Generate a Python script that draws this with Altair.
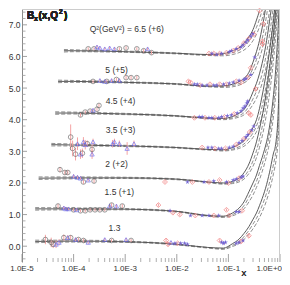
import altair as alt
import pandas as pd

W, H = 258, 253

# ---------------- model curves (shared x grid, first entry = panel start) -------------
grid_x = [None, 1e-4, 1e-3, 1e-2, 0.04, 0.08, 0.12, 0.16, 0.2, 0.25, 0.3, 0.35, 0.4,
          0.45, 0.5, 0.55, 0.6, 0.65, 0.7, 0.75, 0.8, 0.85, 0.9, 0.95, 1.0]
panel_start_x = [6.5e-5, 5.0e-5, 4.4e-5, 3.7e-5, 2.1e-5, 1.8e-5, 1.8e-5]

sol_65 = [6.18, 6.18, 6.15, 6.10, 6.06, 6.09, 6.18, 6.27, 6.42, 6.62, 6.85, 7.15, 7.45, 7.80]
da_65 = [6.22, 6.21, 6.17, 6.11, 6.05, 6.06, 6.12, 6.19, 6.30, 6.48, 6.68, 6.92, 7.18, 7.46, 7.80]
db_65 = [6.14, 6.15, 6.13, 6.08, 6.03, 6.02, 6.06, 6.12, 6.20, 6.33, 6.50, 6.70, 6.93, 7.18, 7.45, 7.75]

sol_5 = [5.21, 5.21, 5.18, 5.13, 5.06, 5.07, 5.12, 5.20, 5.30, 5.50, 5.82, 6.15, 6.50, 6.90, 7.30, 7.75]
da_5 = [5.25, 5.24, 5.20, 5.14, 5.06, 5.05, 5.08, 5.14, 5.22, 5.38, 5.62, 5.90, 6.20, 6.55, 6.92, 7.30, 7.75]
db_5 = [5.17, 5.18, 5.16, 5.11, 5.04, 5.02, 5.04, 5.09, 5.16, 5.28, 5.46, 5.68, 5.94, 6.22, 6.54, 6.88, 7.25, 7.62]

sol_45 = [4.21, 4.21, 4.18, 4.12, 4.05, 4.04, 4.10, 4.20, 4.32, 4.58, 4.88, 5.15, 5.45, 5.78, 6.12, 6.50, 6.90, 7.30, 7.70]
da_45 = [4.25, 4.24, 4.20, 4.13, 4.05, 4.02, 4.06, 4.13, 4.22, 4.42, 4.66, 4.90, 5.16, 5.45, 5.77, 6.12, 6.48, 6.86, 7.25, 7.65]
db_45 = [4.17, 4.18, 4.16, 4.10, 4.03, 4.00, 4.03, 4.08, 4.15, 4.30, 4.48, 4.68, 4.90, 5.15, 5.43, 5.74, 6.08, 6.45, 6.84, 7.24, 7.65]

sol_35 = [3.21, 3.20, 3.17, 3.12, 3.06, 3.05, 3.12, 3.22, 3.33, 3.55, 3.75, 4.00, 4.35, 4.75, 5.15, 5.55, 5.95, 6.35, 6.75, 7.15, 7.60]
da_35 = [3.25, 3.23, 3.19, 3.13, 3.06, 3.03, 3.07, 3.14, 3.23, 3.40, 3.58, 3.80, 4.08, 4.42, 4.78, 5.15, 5.52, 5.90, 6.30, 6.70, 7.10, 7.55]
db_35 = [3.17, 3.17, 3.15, 3.10, 3.04, 3.01, 3.04, 3.09, 3.16, 3.29, 3.44, 3.62, 3.85, 4.12, 4.44, 4.78, 5.14, 5.52, 5.90, 6.30, 6.72, 7.15, 7.60]

sol_2 = [2.15, 2.16, 2.16, 2.12, 2.03, 2.00, 2.05, 2.15, 2.32, 2.60, 2.95, 3.30, 3.70, 4.10, 4.50, 4.95, 5.40, 5.85, 6.30, 6.75, 7.20, 7.70]
da_2 = [2.19, 2.19, 2.18, 2.13, 2.03, 1.98, 2.01, 2.08, 2.20, 2.42, 2.70, 3.02, 3.38, 3.76, 4.15, 4.56, 4.98, 5.42, 5.88, 6.35, 6.82, 7.30, 7.80]
db_2 = [2.11, 2.13, 2.14, 2.10, 2.01, 1.96, 1.98, 2.03, 2.12, 2.30, 2.53, 2.80, 3.12, 3.46, 3.82, 4.20, 4.60, 5.02, 5.45, 5.90, 6.38, 6.88, 7.40, 7.95]

sol_15 = [1.18, 1.18, 1.17, 1.10, 0.97, 0.95, 1.05, 1.20, 1.40, 1.72, 2.00, 2.25, 2.55, 2.80, 3.05, 3.30, 3.60, 3.95, 4.35, 4.80, 5.30, 5.90, 6.60, 7.40, 8.30]
da_15 = [1.22, 1.21, 1.19, 1.11, 0.97, 0.93, 1.00, 1.12, 1.28, 1.55, 1.80, 2.05, 2.32, 2.58, 2.84, 3.10, 3.38, 3.70, 4.05, 4.45, 4.90, 5.42, 6.05, 6.80, 7.70]
db_15 = [1.14, 1.15, 1.15, 1.08, 0.95, 0.91, 0.96, 1.05, 1.18, 1.40, 1.62, 1.86, 2.10, 2.35, 2.60, 2.85, 3.12, 3.42, 3.75, 4.12, 4.55, 5.05, 5.65, 6.40, 7.30]

sol_13 = [0.15, 0.16, 0.14, 0.06, -0.04, -0.06, 0.08, 0.22, 0.40, 0.62, 0.85, 1.05, 1.28, 1.50, 1.72, 1.95, 2.20, 2.45, 2.72, 2.95, 3.10, 3.40, 3.90, 5.00, 7.60]
da_13 = [0.19, 0.19, 0.16, 0.07, -0.04, -0.08, 0.03, 0.14, 0.30, 0.50, 0.70, 0.88, 1.08, 1.28, 1.48, 1.68, 1.90, 2.12, 2.36, 2.60, 2.82, 3.10, 3.50, 4.40, 6.80]
db_13 = [0.11, 0.13, 0.12, 0.04, -0.06, -0.10, -0.01, 0.08, 0.21, 0.38, 0.55, 0.72, 0.90, 1.08, 1.26, 1.45, 1.65, 1.86, 2.08, 2.30, 2.52, 2.78, 3.15, 3.90, 6.00]

curve_sets = [(sol_65, da_65, db_65), (sol_5, da_5, db_5), (sol_45, da_45, db_45),
              (sol_35, da_35, db_35), (sol_2, da_2, db_2), (sol_15, da_15, db_15),
              (sol_13, da_13, db_13)]

# ---------------- data points (x, y, kind, error) per panel ----------------
# kinds: C grey circle, T blue triangle, S blue star, D red diamond
p65_x = [1.92e-4, 2.49e-4, 2.84e-4, 3.23e-4, 4.02e-4, 4.99e-4, 6.19e-4, 7.71e-4, 1.04e-3, 1.68e-3, 2.28e-3, 2.72e-3, 3.23e-3,
         0.042, 0.0478, 0.0521, 0.0594, 0.0676, 0.0738, 0.0917, 0.104, 0.114, 0.124, 0.142, 0.155,
         0.176, 0.192, 0.200, 0.219, 0.238, 0.249, 0.272, 0.296, 0.310, 0.402, 0.477, 0.457]
p65_y = [6.24, 6.24, 6.30, 6.27, 6.24, 6.27, 6.24, 6.24, 6.27, 6.24, 6.18, 6.24, 6.12,
         6.09, 6.09, 6.09, 6.06, 6.09, 6.09, 6.12, 6.15, 6.18, 6.18, 6.24, 6.27,
         6.30, 6.36, 6.42, 6.45, 6.52, 6.56, 6.64, 6.72, 6.70, 7.45, 7.03, 6.48]
p65_k = "CCTTTTTCCCCTC" "DSDSDSDSSDSD" "SSDSSDSSDDDD"
p65_e = [0.05, 0.05, 0.06, 0.05, 0.05, 0.05, 0.05, 0.05, 0.05, 0.05, 0.06, 0.05, 0.06,
         0.03, 0.03, 0.03, 0.03, 0.03, 0.03, 0.03, 0.03, 0.03, 0.03, 0.03, 0.03,
         0.04, 0.04, 0.04, 0.04, 0.04, 0.04, 0.04, 0.05, 0.05, 0.06, 0.06, 0.06]

p5_x = [2.38e-4, 3.23e-4, 4.02e-4, 4.39e-4, 5.45e-4, 6.76e-4, 7.71e-4, 1.04e-3, 1.30e-3, 1.68e-3,
        0.0168, 0.0184, 0.0219, 0.0249, 0.0284, 0.031, 0.0385, 0.0439, 0.0521, 0.0594, 0.0676, 0.0805, 0.0917,
        0.104, 0.124, 0.142, 0.161, 0.176, 0.2, 0.219, 0.238, 0.272, 0.272, 0.323, 0.457]
p5_y = [5.21, 5.24, 5.21, 5.21, 5.24, 5.27, 5.24, 5.33, 5.33, 5.33,
        5.21, 5.18, 5.12, 5.12, 5.09, 5.09, 5.09, 5.12, 5.09, 5.09, 5.12, 5.12, 5.12,
        5.15, 5.18, 5.21, 5.24, 5.18, 5.27, 5.30, 5.33, 5.42, 5.64, 5.97, 6.39]
p5_k = "CTTCTCTCCC" "DDSSDSSDSSDSD" "SSDSDSSDSDSD"
p5_e = [0.05, 0.05, 0.05, 0.05, 0.05, 0.05, 0.05, 0.06, 0.06, 0.06,
        0.04, 0.04, 0.03, 0.03, 0.03, 0.03, 0.03, 0.03, 0.03, 0.03, 0.03, 0.03, 0.03,
        0.03, 0.03, 0.03, 0.03, 0.04, 0.04, 0.04, 0.04, 0.04, 0.05, 0.05, 0.06]

p45_x = [1.36e-4, 1.68e-4, 2.09e-4, 2.38e-4, 2.84e-4, 3.10e-4,
         0.0219, 0.0272, 0.031, 0.0352, 0.042, 0.0478, 0.0545, 0.0648, 0.0738, 0.0841, 0.0958,
         0.114, 0.130, 0.148, 0.176, 0.192, 0.209, 0.228, 0.238, 0.249, 0.272, 0.337]
p45_y = [4.15, 4.24, 4.27, 4.30, 4.33, 4.45,
         4.06, 4.09, 4.09, 4.06, 4.06, 4.06, 4.06, 4.06, 4.09, 4.09, 4.12,
         4.15, 4.18, 4.21, 4.27, 4.36, 4.42, 4.52, 4.58, 4.21, 4.15, 4.97]
p45_k = "CCCTCC" "DSSDSSDSSDS" "SDSSSSSSDDD"
p45_e = [0.06, 0.05, 0.05, 0.05, 0.05, 0.06,
         0.03, 0.03, 0.03, 0.03, 0.03, 0.03, 0.03, 0.03, 0.03, 0.03, 0.03,
         0.03, 0.03, 0.03, 0.04, 0.04, 0.04, 0.04, 0.05, 0.05, 0.05, 0.06]

p35_x = [8.77e-5, 9.57e-5, 1.09e-4, 1.19e-4, 1.36e-4, 1.48e-4, 1.55e-4, 1.68e-4, 1.84e-4, 2.28e-4, 2.28e-4, 2.38e-4,
         5.69e-4, 6.19e-4, 7.71e-4, 1.09e-3, 1.48e-3,
         0.031, 0.0402, 0.0478, 0.0545, 0.0648, 0.0738, 0.0877, 0.104, 0.124,
         0.142, 0.161, 0.184, 0.2, 0.219, 0.238, 0.26, 0.284, 0.31]
p35_y = [3.45, 3.09, 2.91, 3.24, 2.91, 2.94, 3.30, 3.21, 3.24, 3.06, 2.91, 3.30,
         3.24, 3.30, 3.24, 3.09, 3.24,
         3.12, 3.12, 3.12, 3.09, 3.09, 3.09, 3.09, 3.12, 3.15,
         3.21, 3.27, 3.33, 3.39, 3.45, 3.52, 3.61, 3.67, 3.79]
p35_k = "CCCTTCTTCCTT" "TTTTT" "DSSDSSDSS" "DSSDSSDSS"
p35_e = [0.40, 0.25, 0.20, 0.20, 0.15, 0.15, 0.15, 0.15, 0.10, 0.15, 0.15, 0.10,
         0.12, 0.10, 0.10, 0.20, 0.10,
         0.03, 0.03, 0.03, 0.03, 0.03, 0.03, 0.03, 0.03, 0.03,
         0.03, 0.04, 0.04, 0.04, 0.04, 0.04, 0.05, 0.05, 0.05]

p2_x = [5.45e-5, 6.76e-5, 7.71e-5, 1.0e-4, 1.19e-4, 1.36e-4, 1.55e-4, 1.92e-4, 2.49e-4,
        5.9e-3, 0.0161, 0.02, 0.0338, 0.042, 0.0521, 0.0676, 0.0917, 0.1, 0.124, 0.142, 0.161, 0.176, 0.192]
p2_y = [2.42, 2.33, 2.33, 2.21, 2.18, 2.15, 2.03, 2.09, 2.06,
        2.03, 2.03, 2.03, 2.03, 2.03, 2.06, 2.09, 2.03, 2.00, 2.09, 2.12, 2.15, 2.18, 2.21]
p2_k = "CCCTTTCTC" "DSDSDSDSDSSDSS"
p2_e = [0.08, 0.07, 0.07, 0.06, 0.06, 0.06, 0.06, 0.05, 0.06,
        0.04, 0.03, 0.03, 0.03, 0.03, 0.03, 0.03, 0.03, 0.03, 0.03, 0.03, 0.04, 0.04, 0.04]

p15_x = [4.99e-5, 6.47e-5, 7.06e-5, 8.05e-5, 1.0e-4, 1.14e-4, 1.36e-4, 1.68e-4, 2.09e-4, 2.6e-4, 3.23e-4, 4.02e-4,
         4.99e-4, 5.45e-4, 6.76e-4, 8.77e-4,
         4.4e-3, 7.4e-3, 8.4e-3, 0.0114, 0.0184, 0.0228, 0.031, 0.042, 0.0521, 0.0648, 0.0917, 0.104, 0.142, 0.161, 0.184]
p15_y = [1.27, 1.21, 1.18, 1.18, 1.15, 1.15, 1.12, 1.12, 1.15, 1.15, 1.15, 1.15,
         1.27, 1.30, 1.27, 1.27,
         1.30, 1.12, 1.06, 1.00, 0.97, 0.97, 0.97, 0.97, 0.97, 0.97, 1.15, 0.97, 1.09, 1.09, 1.12]
p15_k = "CTTTCTCCCCCC" "TCTC" "DSDDSDSSDSDDSSD"
p15_e = [0.07, 0.06, 0.06, 0.05, 0.05, 0.05, 0.05, 0.05, 0.05, 0.05, 0.05, 0.05,
         0.06, 0.06, 0.06, 0.06,
         0.05, 0.04, 0.04, 0.04, 0.03, 0.03, 0.03, 0.03, 0.03, 0.03, 0.04, 0.03, 0.03, 0.04, 0.04]

p13_x = [2.84e-5, 3.68e-5, 4.02e-5, 4.57e-5, 5.21e-5, 6.47e-5, 7.71e-5, 8.77e-5, 1.09e-4, 1.24e-4, 1.55e-4, 1.92e-4,
         4.02e-4, 5.45e-4, 1.04e-3, 1.30e-3,
         6.2e-3, 6.76e-3, 7.7e-3, 9.2e-3, 0.0104, 0.0119, 0.0142, 0.0161,
         0.0676, 0.0738, 0.0805, 0.0877, 0.142, 0.161, 0.176, 0.192, 0.249]
p13_y = [0.21, 0.12, 0.06, 0.06, 0.12, 0.27, 0.27, 0.27, 0.21, 0.21, 0.18, 0.12,
         0.21, 0.18, 0.21, 0.18,
         0.18, 0.06, 0.12, 0.09, 0.09, 0.09, 0.09, 0.06,
         0.18, 0.12, 0.09, 0.12, 0.09, 0.12, 0.15, 0.18, 0.33]
p13_k = "CCCTTCTCTCCT" "TCTC" "DDTSDSSS" "DSSSSSDSD"
p13_e = [0.15, 0.15, 0.12, 0.12, 0.10, 0.10, 0.08, 0.08, 0.06, 0.06, 0.06, 0.06,
         0.05, 0.05, 0.05, 0.05,
         0.06, 0.06, 0.04, 0.04, 0.04, 0.04, 0.04, 0.04,
         0.04, 0.04, 0.04, 0.04, 0.04, 0.04, 0.05, 0.05, 0.06]

# ---------------- labels ----------------
panel_labels = ["Q²(GeV²) =  6.5 (+6)", "5 (+5)", "4.5 (+4)", "3.5 (+3)", "2 (+2)", "1.5 (+1)", "1.3"]
label_x = [1.07e-3, 6.8e-4, 8.1e-4, 8.1e-4, 6.8e-4, 7.7e-4, 6.2e-4]
label_y = [6.88, 5.58, 4.60, 3.67, 2.60, 1.70, 0.58]

x_tick_vals = [1e-5, 1e-4, 1e-3, 1e-2, 1e-1]
x_tick_labels = ["1.0E-5", "1.0E-4", "1.0E-3", "1.0E-2", "1.0E-1"]
x_last_val = [1.0]
x_last_label = ["1.0E+0"]
y_tick_vals = [0, 1, 2, 3, 4, 5, 6, 7]
y_minor = [round(-0.4 + 0.2 * i, 1) for i in range(40) if round(-0.4 + 0.2 * i, 1) not in y_tick_vals]
x_minor = [m * 10.0 ** d for d in range(-5, 0) for m in range(2, 10)]

# ---------------- build tables ----------------
crow = []
for pi, sets in enumerate(curve_sets):
    xs_ = [panel_start_x[pi]] + grid_x[1:]
    for style, ys_ in zip(["solid", "dashA", "dashB"], sets):
        for i, yv in enumerate(ys_):
            crow.append({"x": xs_[i], "y": yv, "cid": f"{pi}-{style}", "style": style, "i": i})
curves_df = pd.DataFrame(crow)

prow = []
for xs_, ys_, ks_, es_ in [(p65_x, p65_y, p65_k, p65_e), (p5_x, p5_y, p5_k, p5_e),
                           (p45_x, p45_y, p45_k, p45_e), (p35_x, p35_y, p35_k, p35_e),
                           (p2_x, p2_y, p2_k, p2_e), (p15_x, p15_y, p15_k, p15_e),
                           (p13_x, p13_y, p13_k, p13_e)]:
    for xv, yv, kv, ev in zip(xs_, ys_, ks_, es_):
        prow.append({"x": xv, "y": yv, "k": kv, "lo": yv - ev, "hi": yv + ev})
pts_df = pd.DataFrame(prow)

lab_df = pd.DataFrame({"x": label_x, "y": label_y, "t": panel_labels})
xl_df = pd.DataFrame({"x": x_tick_vals, "t": x_tick_labels})
xl2_df = pd.DataFrame({"x": x_last_val, "t": x_last_label})
ymaj_df = pd.DataFrame({"y": y_tick_vals})
ymin_df = pd.DataFrame({"y": y_minor})
xmaj_df = pd.DataFrame({"x": x_tick_vals + x_last_val})
xmin_df = pd.DataFrame({"x": x_minor})

FONT = "Liberation Sans"
xs = alt.Scale(type="log", domain=[1e-5, 1], nice=False)
ys = alt.Scale(domain=[-0.5, 7.5], nice=False, zero=False)
yax = alt.Axis(values=y_tick_vals, format=".1f", ticks=False, domain=True, domainColor="#8a8a8a",
               labelFontSize=8.5, labelColor="#333333", labelPadding=2, title=None, grid=False,
               labelFont=FONT)
X = alt.X("x:Q", scale=xs, axis=None)
Y = alt.Y("y:Q", scale=ys, axis=yax)

STAR = ("M0,-1L0.2245,-0.309L0.951,-0.309L0.363,0.118L0.588,0.809L0,0.382"
        "L-0.588,0.809L-0.363,0.118L-0.951,-0.309L-0.2245,-0.309Z")

base_c = alt.Chart(curves_df)
solid = base_c.transform_filter("datum.style == 'solid'").mark_line(
    clip=True, interpolate="monotone", color="#4a4a4a", strokeWidth=0.9
).encode(x=X, y=Y, detail="cid:N", order="i:Q")
dashed = base_c.transform_filter("datum.style != 'solid'").mark_line(
    clip=True, interpolate="monotone", color="#747474", strokeWidth=0.8, strokeDash=[4, 2]
).encode(x=X, y=Y, detail="cid:N", order="i:Q")

base_p = alt.Chart(pts_df)
err = base_p.mark_rule(color="#f5a3a3", strokeWidth=1, clip=True).encode(
    x=X, y=alt.Y("lo:Q", scale=ys, axis=yax), y2="hi:Q")


def pts(kind, **kw):
    return base_p.transform_filter(f"datum.k == '{kind}'").mark_point(**kw).encode(x=X, y=Y)


circ = pts("C", shape="circle", size=22, color="#5a5a5a", strokeWidth=0.85, filled=False)
tri = pts("T", shape="triangle-up", size=19, color="#6060f0", strokeWidth=0.85, filled=False)
dia = pts("D", shape="diamond", size=24, color="#f06868", strokeWidth=0.85, filled=False)
star = pts("S", shape=STAR, size=26, color="#4a4ad8", filled=True, opacity=0.7)

labels = alt.Chart(lab_df).mark_text(font=FONT, fontSize=8.5, color="#333333",
                                     align="center", baseline="middle").encode(x=X, y=Y, text="t:N")
xlab = alt.Chart(xl_df).mark_text(font=FONT, fontSize=8, color="#333333", align="center",
                                  baseline="middle").encode(x=X, y=alt.value(H + 7), text="t:N")
xlab2 = alt.Chart(xl2_df).mark_text(font=FONT, fontSize=8, color="#333333", align="right", dx=2,
                                    baseline="middle").encode(x=X, y=alt.value(H + 7), text="t:N")

ymaj = alt.Chart(ymaj_df).mark_rule(color="#8a8a8a", strokeWidth=0.8).encode(
    y=Y, x=alt.value(0), x2=alt.value(5))
ymin = alt.Chart(ymin_df).mark_rule(color="#9a9a9a", strokeWidth=0.8).encode(
    y=Y, x=alt.value(0), x2=alt.value(3.5))
xmaj = alt.Chart(xmaj_df).mark_rule(color="#8a8a8a", strokeWidth=0.8).encode(
    x=X, y=alt.value(H), y2=alt.value(H - 8))
xmin = alt.Chart(xmin_df).mark_rule(color="#9a9a9a", strokeWidth=0.8).encode(
    x=X, y=alt.value(H), y2=alt.value(H - 4))

top_line = alt.Chart(ymaj_df).mark_rule(color="#cccccc", strokeWidth=1).encode(
    x=alt.value(0), x2=alt.value(W), y=alt.value(0.5))
right_line = alt.Chart(ymaj_df).mark_rule(color="#cccccc", strokeWidth=1).encode(
    x=alt.value(W - 0.5), y=alt.value(0), y2=alt.value(H))

title_parts = [
    alt.Chart(ymaj_df).mark_text(text="B", font=FONT, fontSize=10, fontWeight="bold", align="left",
                                 baseline="alphabetic", color="#222").encode(x=alt.value(5), y=alt.value(10)),
    alt.Chart(ymaj_df).mark_text(text="x", font=FONT, fontSize=7, fontWeight="bold", align="left",
                                 baseline="alphabetic", color="#222").encode(x=alt.value(12), y=alt.value(12)),
    alt.Chart(ymaj_df).mark_text(text="(x,Q", font=FONT, fontSize=10, fontWeight="bold", align="left",
                                 baseline="alphabetic", color="#222").encode(x=alt.value(16.5), y=alt.value(10)),
    alt.Chart(ymaj_df).mark_text(text="2", font=FONT, fontSize=6.5, fontWeight="bold", align="left",
                                 baseline="alphabetic", color="#222").encode(x=alt.value(37), y=alt.value(5)),
    alt.Chart(ymaj_df).mark_text(text=")", font=FONT, fontSize=10, fontWeight="bold", align="left",
                                 baseline="alphabetic", color="#222").encode(x=alt.value(42), y=alt.value(10)),
]
xtitle = alt.Chart(pd.DataFrame({"x": [0.2]})).mark_text(
    text="x", font=FONT, fontSize=9.5, fontWeight="bold", align="center", baseline="middle",
    color="#222").encode(x=X, y=alt.value(H + 10.5))

chart = alt.layer(
    dashed, solid, err, circ, tri, dia, star, labels,
    ymaj, ymin, xmaj, xmin, top_line, right_line, xlab, xlab2, xtitle, *title_parts
).properties(
    width=W, height=H,
    padding={"left": 14, "top": 1, "right": 2, "bottom": 15},
    autosize=alt.AutoSizeParams(type="none"),
).configure_view(stroke=None)

chart.save("out.html", embed_options={"renderer": "svg", "actions": False})
